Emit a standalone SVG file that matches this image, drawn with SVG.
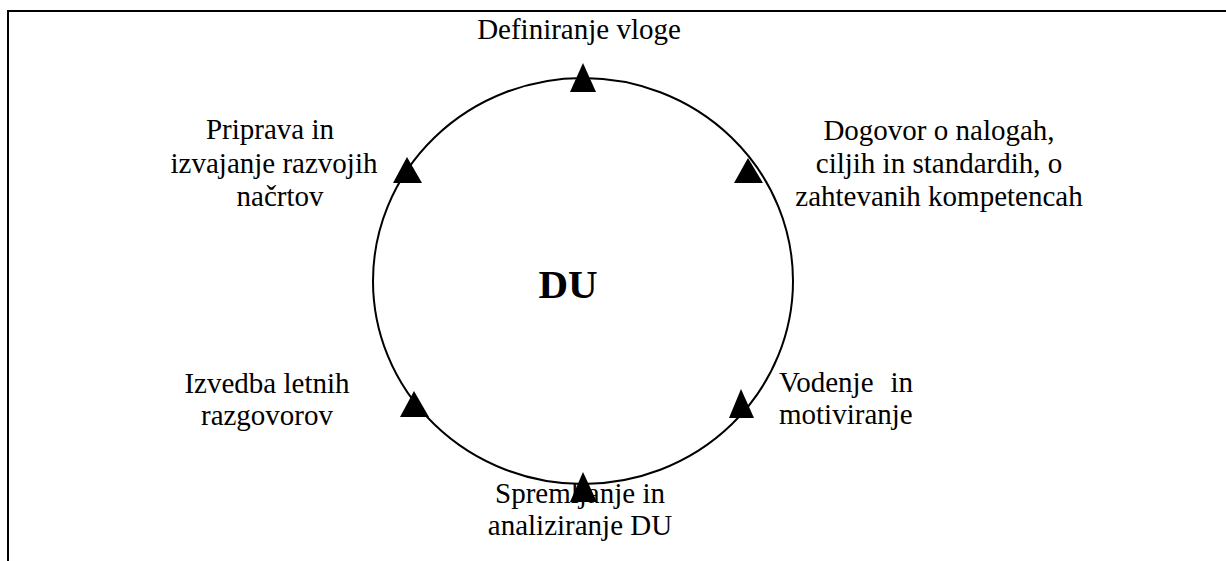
<svg xmlns="http://www.w3.org/2000/svg" width="1226" height="561" viewBox="0 0 1226 561">
<style>
.t{font-family:"Liberation Serif","Times New Roman",serif;font-size:29px;fill:#000}
.c{text-anchor:middle}
.b{font-weight:bold;font-size:41px}
.tri{fill:#000}
</style>
<rect width="1226" height="561" fill="#fff"/>
<g id="frame" fill="none" stroke="#000" stroke-width="2">
<path d="M8,561 V11 H1226"/>
</g>
<g id="connectors">
<ellipse cx="583" cy="281" rx="210" ry="203" fill="none" stroke="#000" stroke-width="2"/>
</g>
<g id="center"><text class="t b c" x="568" y="298">DU</text></g>
<g id="n1">
<polygon class="tri" points="583,63 570,92 596,92"/>
<text class="t c" x="579" y="39">Definiranje vloge</text>
</g>
<g id="n2">
<polygon class="tri" points="748,158 734,183 763,183"/>
<text class="t c" x="939"><tspan x="939" y="140">Dogovor o nalogah,</tspan><tspan x="939" y="173">ciljih in standardih, o</tspan><tspan x="939" y="206">zahtevanih kompetencah</tspan></text>
</g>
<g id="n3">
<polygon class="tri" points="741,389 729,418 754,418"/>
<text class="t" x="779" y="392">Vodenje</text>
<text class="t" x="913" y="392" text-anchor="end">in</text>
<text class="t" x="779" y="424">motiviranje</text>
</g>
<g id="n4">
<polygon class="tri" points="583,472 570,502 597,502"/>
<text class="t c"><tspan x="580" y="503">Spremljanje in</tspan><tspan x="580" y="535">analiziranje DU</tspan></text>
</g>
<g id="n5">
<polygon class="tri" points="414,391 400,417 429,417"/>
<text class="t c"><tspan x="267" y="393">Izvedba letnih</tspan><tspan x="267" y="425">razgovorov</tspan></text>
</g>
<g id="n6">
<polygon class="tri" points="407,157 393,183 422,183"/>
<text class="t c"><tspan x="270" y="139">Priprava in</tspan><tspan x="274" y="173">izvajanje razvojih</tspan><tspan x="280" y="206">načrtov</tspan></text>
</g>
</svg>
